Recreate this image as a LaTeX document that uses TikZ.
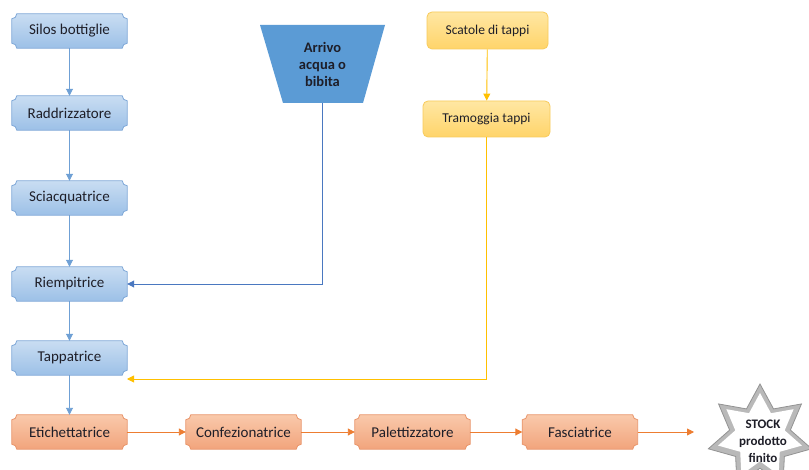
\documentclass[tikz,border=0pt]{standalone}
\usepackage{fontspec}
\setmainfont{Carlito}
\usetikzlibrary{arrows.meta,shapes.geometric,backgrounds,calc}
\definecolor{bTop}{HTML}{C9DDF2}
\definecolor{bBot}{HTML}{9CC0E7}
\definecolor{bLine}{HTML}{7FA8D8}
\definecolor{oTop}{HTML}{F9C9AB}
\definecolor{oBot}{HTML}{F2A47C}
\definecolor{oLine}{HTML}{E9956B}
\definecolor{yTop}{HTML}{FFE7A3}
\definecolor{yBot}{HTML}{FFD46A}
\definecolor{yLine}{HTML}{F7CB5C}
\definecolor{trapFill}{HTML}{5B9BD5}
\definecolor{arrB}{HTML}{6FA0D5}
\definecolor{arrB2}{HTML}{4A78C0}
\definecolor{arrY}{HTML}{FFC000}
\definecolor{arrO}{HTML}{ED7D31}
\definecolor{txt}{HTML}{1E1E28}
\tikzset{
  x=1pt, y=1pt,
  plaquetext/.style={minimum width=115pt, minimum height=34pt, inner sep=0pt,
    font=\fontsize{15}{18}\selectfont, text=txt},
  blueplaque/.style={top color=bTop, bottom color=bBot, draw=bLine, line width=0.8pt},
  orangeplaque/.style={top color=oTop, bottom color=oBot, draw=oLine, line width=0.8pt},
  yellowbox/.style={rounded corners=5pt, top color=yTop, bottom color=yBot, draw=yLine,
    line width=0.8pt, inner sep=0pt, font=\fontsize{13.5}{16}\selectfont, text=txt},
  tip/.style={-{Triangle[width=7pt,length=7pt]}},
  bluearrow/.style={tip, draw=arrB, fill=arrB, line width=0.9pt},
  bluearrowdark/.style={tip, draw=arrB2, line width=0.9pt},
  yellowarrow/.style={tip, draw=arrY, line width=0.9pt},
  orangearrow/.style={tip, draw=arrO, line width=0.9pt},
}
\newcommand\plaque[4]{%
  \node[plaquetext] (#1) at (#2) {#3};
  \begin{scope}[on background layer]
    \path[#4] ($(#1.north west)+(5,0)$) -- ($(#1.north east)+(-5,0)$)
      arc[start angle=180,end angle=270,radius=5pt]
      -- ($(#1.south east)+(0,5)$)
      arc[start angle=90,end angle=180,radius=5pt]
      -- ($(#1.south west)+(5,0)$)
      arc[start angle=0,end angle=90,radius=5pt]
      -- ($(#1.north west)+(0,-5)$)
      arc[start angle=270,end angle=360,radius=5pt] -- cycle;
  \end{scope}}
\begin{document}
\begin{tikzpicture}
\begin{scope}[on background layer]
\fill[white] (0,0) rectangle (809,-470);
\end{scope}
\path[use as bounding box] (0,0) rectangle (809,-470);

% left column
\plaque{silos}{69.5,-31}{Silos bottiglie}{blueplaque}
\plaque{radd}{69.5,-113}{Raddrizzatore}{blueplaque}
\plaque{sciac}{69.5,-198}{Sciacquatrice}{blueplaque}
\plaque{riemp}{69.5,-284}{Riempitrice}{blueplaque}
\plaque{tapp}{69.5,-358}{Tappatrice}{blueplaque}

% bottom row
\plaque{etich}{69.5,-432}{Etichettatrice}{orangeplaque}
\plaque{conf}{243.5,-432}{Confezionatrice}{orangeplaque}
\plaque{pal}{412.5,-432}{Palettizzatore}{orangeplaque}
\plaque{fasc}{580,-432}{Fasciatrice}{orangeplaque}

% trapezoid
\fill[trapFill] (260,-25) -- (385,-25) -- (363,-103) -- (283,-103) -- cycle;
\node[minimum height=78pt, inner sep=0pt, align=center, text=txt,
  font=\bfseries\fontsize{14.5}{17}\selectfont] (arr) at (322.5,-64) {Arrivo\\acqua o\\bibita};

% yellow boxes
\node[yellowbox, minimum width=121pt, minimum height=37pt] (scat) at (487.5,-30.5) {Scatole di tappi};
\node[yellowbox, minimum width=127pt, minimum height=36pt] (tram) at (486.5,-119) {Tramoggia tappi};

% star
\node[star, star points=7, star point ratio=1.7, minimum size=106pt, inner sep=0pt,
  fill=gray!55, draw=gray!85, line width=0.8pt] (stockout) at (760,-437) {};
\node[star, star points=7, star point ratio=1.7, minimum size=86pt, inner sep=0pt,
  fill=white] (stockin) at (760,-436) {};
\node[align=center, text=txt, font=\bfseries\fontsize{13}{17}\selectfont] (stock) at (763,-441) {STOCK\\prodotto\\finito};

% connectors
\draw[bluearrow] (silos) -- (radd);
\draw[bluearrow] (radd) -- (sciac);
\draw[bluearrow] (sciac) -- (riemp);
\draw[bluearrow] (riemp) -- (tapp);
\draw[bluearrow] (tapp) -- (etich);
\draw[bluearrowdark] (arr.south) |- (riemp.east);
\draw[yellowarrow] (scat) -- (tram);
\coordinate (yend) at (127,-379);
\draw[yellowarrow] (tram.south) |- (yend);
\draw[orangearrow] (etich) -- (conf);
\draw[orangearrow] (conf) -- (pal);
\draw[orangearrow] (pal) -- (fasc);
\coordinate (send) at (694,-432);
\draw[orangearrow] (fasc) -- (send);
\end{tikzpicture}
\end{document}
